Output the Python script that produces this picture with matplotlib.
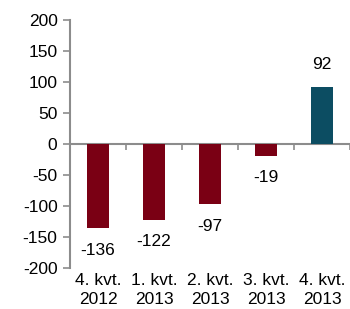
import numpy as np
import matplotlib
matplotlib.use("Agg")
import matplotlib.pyplot as plt

categories = ["4. kvt.\n2012", "1. kvt.\n2013", "2. kvt.\n2013", "3. kvt.\n2013", "4. kvt.\n2013"]
values = [-136, -122, -97, -19, 92]
colors = ["#7a0014", "#7a0014", "#7a0014", "#7a0014", "#0c4d62"]
yticks = [-200, -150, -100, -50, 0, 50, 100, 150, 200]

plt.rcParams["font.family"] = ["Liberation Sans", "DejaVu Sans"]
plt.rcParams["axes.unicode_minus"] = False
grey = "#8c8c8c"

fig = plt.figure(figsize=(3.5, 3.09), dpi=100)
ax = fig.add_axes([0.2, 0.133, 0.8, 0.802])

x = np.arange(len(values))
ax.bar(x, values, width=0.4, color=colors)

ax.set_xlim(-0.5, len(values) - 0.5)
ax.set_ylim(-200, 200)
ax.set_yticks(yticks)
ax.tick_params(axis="y", labelsize=12.5, length=5, width=1.2, color=grey, pad=4)

# category labels at the bottom
ax.set_xticks(x)
ax.set_xticklabels(categories, fontsize=12.5, linespacing=1.3)
ax.tick_params(axis="x", length=0, pad=4)

for s in ["top", "right", "bottom"]:
    ax.spines[s].set_visible(False)
ax.spines["left"].set_color(grey)
ax.spines["left"].set_linewidth(1.5)

# zero line with boundary ticks
sec = ax.secondary_xaxis(0.5)
sec.set_alignment("bottom")
sec.set_xticks(np.arange(len(values)) + 0.5)
sec.set_xticklabels([])
sec.tick_params(length=4, width=1.2, color=grey, direction="out")
sec.spines["bottom"].set_color(grey)
sec.spines["bottom"].set_linewidth(1.5)

# value labels
for xi, v in zip(x, values):
    off = -22 if v < 0 else 22
    ax.annotate(str(v), (xi, v), xytext=(0, off), textcoords="offset pixels",
                ha="center", va="center", fontsize=12.5)

fig.savefig("out.png", dpi=100)
